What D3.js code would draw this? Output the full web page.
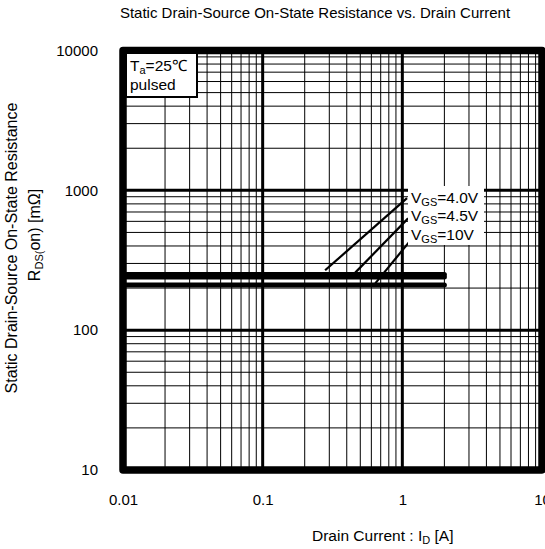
<!DOCTYPE html>
<html>
<head>
<meta charset="utf-8">
<script src="https://cdn.jsdelivr.net/npm/d3@7"></script>
<style>
  body { margin: 0; background: #fff; }
  svg { display: block; font-family: "Liberation Sans", Arial, sans-serif; }
</style>
</head>
<body>
<svg id="chart" width="545" height="549"></svg>
<script>
// series: flat on-resistance vs drain current, one per gate voltage
const vgsLabels = ['4.0V', '4.5V', '10V'];
const currents = [0.01, 2];
const rdsOn = [
  [250, 250],   // VGS=4.0V
  [240, 240],   // VGS=4.5V
  [210, 210]    // VGS=10V
];
// leader lines from curve to label, in data units [x0, y0, x1, y1]
const leaders = [
  [0.28, 268, 1.08, 880],
  [0.46, 258, 1.10, 630],
  [0.64, 216, 1.16, 446]
];
const xTickLabels = ['0.01', '0.1', '1', '10'];
const yTickLabels = ['10', '100', '1000', '10000'];

const svg = d3.select('#chart');
const x = d3.scaleLog().domain([0.01, 10]).range([123, 542]);
const y = d3.scaleLog().domain([10, 10000]).range([470, 50.5]);

const isMajor = v => Math.abs(Math.log10(v) - Math.round(Math.log10(v))) < 1e-9;

// grid
const grid = svg.append('g');
grid.selectAll('.vx').data(x.ticks()).enter().append('line')
  .attr('x1', d => x(d)).attr('x2', d => x(d))
  .attr('y1', y.range()[0]).attr('y2', y.range()[1])
  .attr('stroke', '#000')
  .attr('stroke-width', d => isMajor(d) ? 3 : 1);
grid.selectAll('.hy').data(y.ticks()).enter().append('line')
  .attr('y1', d => y(d)).attr('y2', d => y(d))
  .attr('x1', x.range()[0]).attr('x2', x.range()[1])
  .attr('stroke', '#000')
  .attr('stroke-width', d => isMajor(d) ? 3 : 1);

// data lines
const line = d3.line().x((d, i) => x(currents[i])).y(d => y(d));
svg.selectAll('.series').data(rdsOn).enter().append('path')
  .attr('d', d => line(d))
  .attr('fill', 'none')
  .attr('stroke', '#000')
  .attr('stroke-width', 5)
  .attr('stroke-linecap', 'round');

// leaders
svg.selectAll('.leader').data(leaders).enter().append('line')
  .attr('x1', d => x(d[0])).attr('y1', d => y(d[1]))
  .attr('x2', d => x(d[2])).attr('y2', d => y(d[3]))
  .attr('stroke', '#000').attr('stroke-width', 2.2);

// label background and labels
svg.append('rect').attr('x', 408).attr('y', 186).attr('width', 76).attr('height', 59)
  .attr('fill', '#fff');
const lab = svg.selectAll('.vlab').data(vgsLabels).enter().append('text')
  .attr('x', 411).attr('y', (d, i) => 202.5 + i * 18.5)
  .attr('font-size', 15.5);
lab.append('tspan').text('V');
lab.append('tspan').attr('font-size', 11).attr('dy', 3).text('GS');
lab.append('tspan').attr('dy', -3).text(d => '=' + d);

// frame
svg.append('rect')
  .attr('x', x.range()[0]).attr('y', y.range()[1])
  .attr('width', x.range()[1] - x.range()[0])
  .attr('height', y.range()[0] - y.range()[1])
  .attr('fill', 'none').attr('stroke', '#000')
  .attr('stroke-width', 7.5).attr('stroke-linejoin', 'round');

// Ta box
svg.append('rect').attr('x', 126).attr('y', 53).attr('width', 71).attr('height', 44)
  .attr('fill', '#fff').attr('stroke', '#000').attr('stroke-width', 2);
const ta = svg.append('text').attr('x', 130).attr('y', 71).attr('font-size', 15.5);
ta.append('tspan').text('T');
ta.append('tspan').attr('font-size', 11).attr('dy', 3).text('a');
ta.append('tspan').attr('dy', -3).text('=25\u2103');
svg.append('text').attr('x', 130).attr('y', 90).attr('font-size', 15.5).text('pulsed');

// axes tick labels
const yAxis = d3.axisLeft(y).tickValues(yTickLabels.map(Number)).tickSize(0)
  .tickPadding(0).tickFormat((d, i) => yTickLabels[i]);
svg.append('g').attr('transform', 'translate(98,0)').call(yAxis)
  .call(g => g.select('.domain').remove())
  .selectAll('text').attr('font-size', 15).attr('font-family', null).attr('fill', '#000');

const xAxis = d3.axisBottom(x).tickValues(xTickLabels.map(Number)).tickSize(0)
  .tickPadding(0).tickFormat((d, i) => xTickLabels[i]);
svg.append('g').attr('transform', 'translate(0,494)').call(xAxis)
  .call(g => g.select('.domain').remove())
  .selectAll('text').attr('font-size', 15).attr('font-family', null).attr('fill', '#000');

// titles
svg.append('text').attr('x', 315).attr('y', 18).attr('text-anchor', 'middle')
  .attr('font-size', 15).text('Static Drain-Source On-State Resistance vs. Drain Current');

const xt = svg.append('text').attr('x', 312).attr('y', 541).attr('font-size', 15.5);
xt.append('tspan').text('Drain Current : I');
xt.append('tspan').attr('font-size', 11).attr('dy', 3).text('D');
xt.append('tspan').attr('dy', -3).text(' [A]');

svg.append('text').attr('transform', 'translate(17,248) rotate(-90)')
  .attr('text-anchor', 'middle').attr('font-size', 16)
  .text('Static Drain-Source On-State Resistance');
const yt = svg.append('text').attr('transform', 'translate(40,235) rotate(-90)')
  .attr('text-anchor', 'middle').attr('font-size', 16);
yt.append('tspan').text('R');
yt.append('tspan').attr('font-size', 11).attr('dy', 3).text('DS(');
yt.append('tspan').attr('dy', -3).text('on) [m\u03a9]');
</script>
</body>
</html>
